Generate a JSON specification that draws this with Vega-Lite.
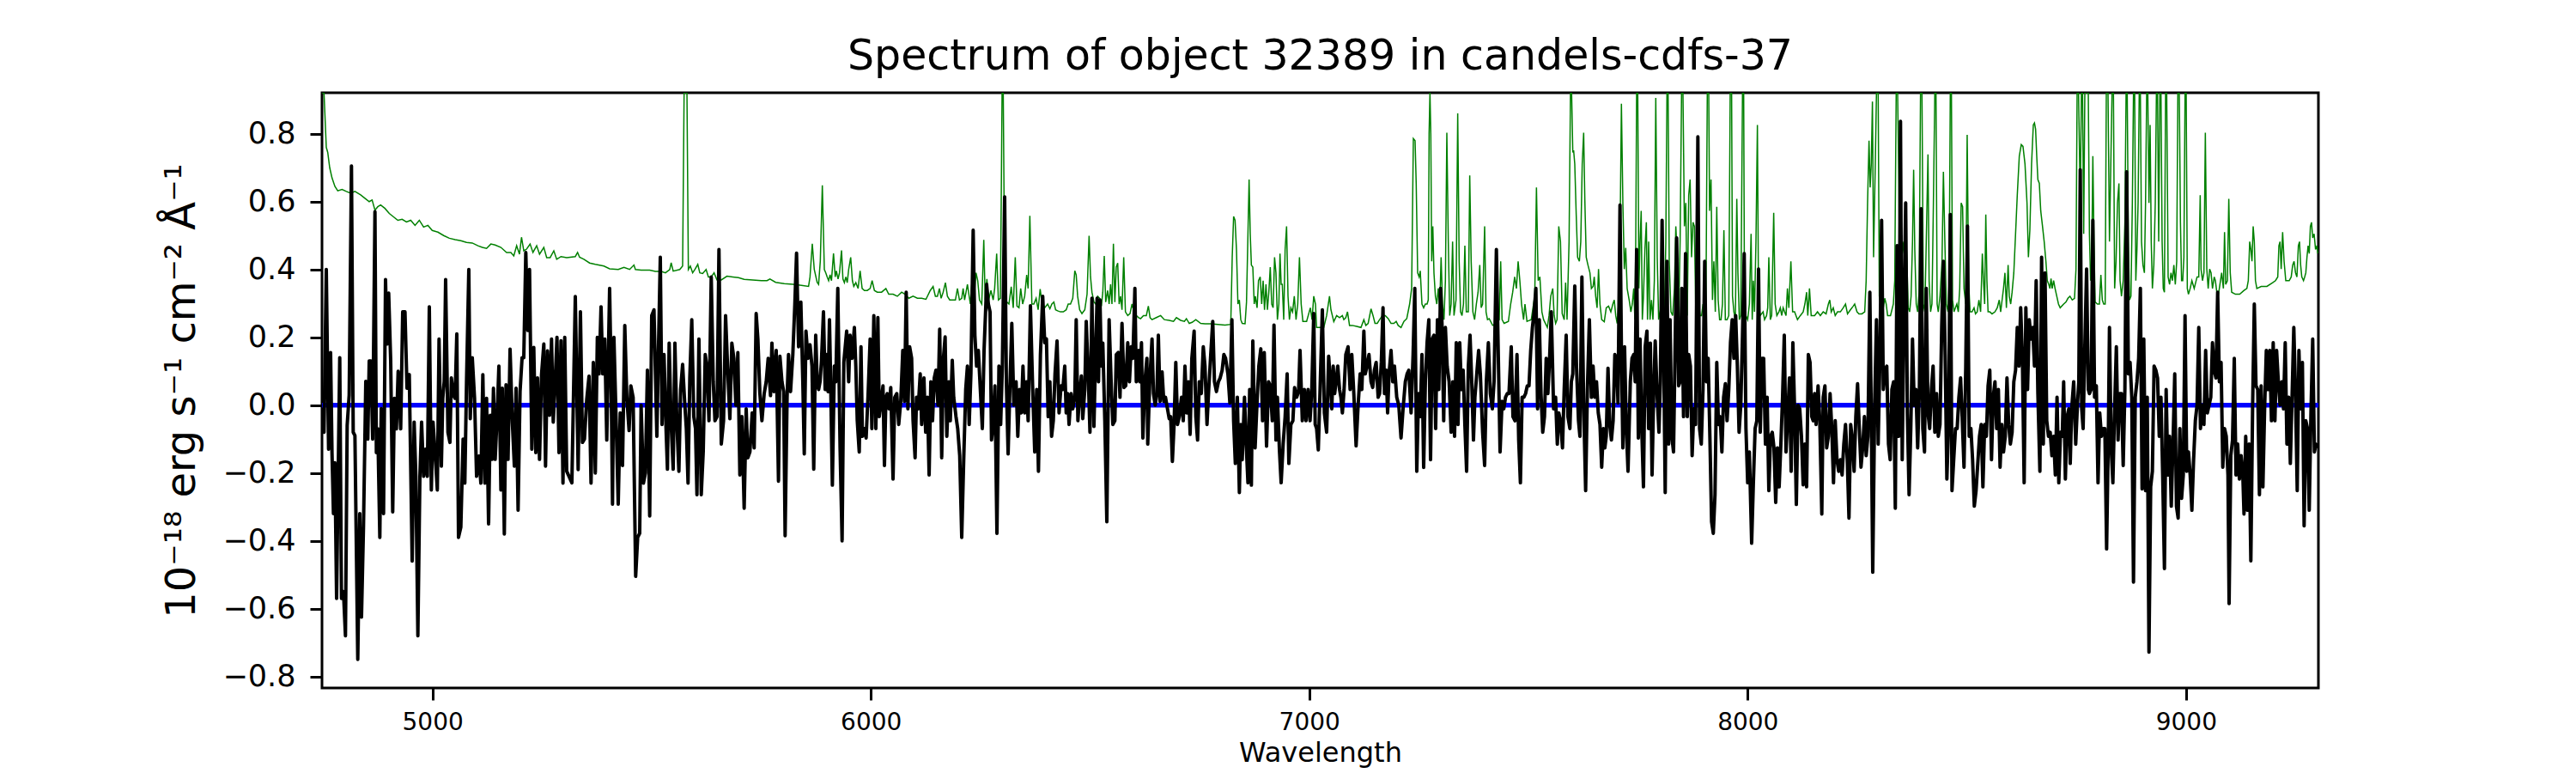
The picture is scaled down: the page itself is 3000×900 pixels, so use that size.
{
"$schema": "https://vega.github.io/schema/vega-lite/v6.json",
"width": 2325,
"height": 693,
"autosize": {"type": "none"},
"padding": {"left": 375, "top": 108, "right": 300, "bottom": 99},
"background": "white",
"title": {"text": "Spectrum of object 32389 in candels-cdfs-37", "fontSize": 49, "font": "DejaVu Sans", "fontWeight": "normal", "color": "black", "offset": 25, "baseline": "alphabetic", "anchor": "middle", "dy": 47},
"config": {
"view": {"stroke": "black", "strokeWidth": 3},
"axis": {"grid": false, "domain": false, "tickColor": "black", "tickWidth": 3, "tickSize": 14, "labelColor": "black", "labelFont": "DejaVu Sans", "titleFont": "DejaVu Sans", "titleFontWeight": "normal", "titleColor": "black"}
},
"datasets": {
"zero": [{"w": 4748, "f": 0}, {"w": 9302, "f": 0}],
"err": [
{"w":4748.0,"f":1.05},{"w":4752.6,"f":0.92},{"w":4757.8,"f":0.76},{"w":4761.1,"f":0.745},{"w":4765.6,"f":0.70},{"w":4770.8,"f":0.67},{"w":4777.4,"f":0.645},{"w":4783.9,"f":0.632},{"w":4793.7,"f":0.636},{"w":4803.5,"f":0.63},{"w":4813.3,"f":0.625},{"w":4823.1,"f":0.63},{"w":4836.1,"f":0.62},{"w":4845.9,"f":0.61},{"w":4855.7,"f":0.60},{"w":4862.3,"f":0.605},{"w":4868.8,"f":0.575},{"w":4875.3,"f":0.585},{"w":4881.8,"f":0.59},{"w":4891.6,"f":0.58},{"w":4901.4,"f":0.565},{"w":4911.2,"f":0.555},{"w":4921.0,"f":0.545},{"w":4930.8,"f":0.548},{"w":4940.6,"f":0.54},{"w":4950.4,"f":0.545},{"w":4960.2,"f":0.53},{"w":4970.0,"f":0.545},{"w":4979.8,"f":0.525},{"w":4989.6,"f":0.53},{"w":4999.4,"f":0.515},{"w":5012.4,"f":0.51},{"w":5025.5,"f":0.50},{"w":5038.5,"f":0.492},{"w":5051.6,"f":0.488},{"w":5064.7,"f":0.485},{"w":5077.7,"f":0.48},{"w":5090.8,"f":0.478},{"w":5103.8,"f":0.47},{"w":5113.6,"f":0.465},{"w":5123.4,"f":0.462},{"w":5133.2,"f":0.475},{"w":5143.0,"f":0.472},{"w":5156.1,"f":0.465},{"w":5169.1,"f":0.45},{"w":5178.9,"f":0.45},{"w":5185.5,"f":0.44},{"w":5192.0,"f":0.47},{"w":5198.5,"f":0.445},{"w":5203.1,"f":0.495},{"w":5208.3,"f":0.455},{"w":5214.8,"f":0.46},{"w":5222.7,"f":0.475},{"w":5229.2,"f":0.45},{"w":5237.7,"f":0.47},{"w":5244.2,"f":0.445},{"w":5254.0,"f":0.465},{"w":5260.5,"f":0.435},{"w":5268.4,"f":0.435},{"w":5276.8,"f":0.455},{"w":5283.4,"f":0.43},{"w":5293.2,"f":0.438},{"w":5306.2,"f":0.435},
{"w":5325.8,"f":0.438},{"w":5331.0,"f":0.45},{"w":5335.6,"f":0.436},{"w":5345.4,"f":0.43},{"w":5358.4,"f":0.419},{"w":5371.5,"f":0.415},{"w":5391.1,"f":0.41},{"w":5404.1,"f":0.402},{"w":5423.7,"f":0.40},{"w":5436.8,"f":0.406},{"w":5449.8,"f":0.40},{"w":5459.6,"f":0.413},{"w":5462.9,"f":0.40},{"w":5476.0,"f":0.398},{"w":5495.5,"f":0.398},{"w":5508.6,"f":0.394},{"w":5521.7,"f":0.394},{"w":5531.4,"f":0.39},{"w":5541.3,"f":0.40},{"w":5544.5,"f":0.42},{"w":5549.1,"f":0.395},{"w":5564.1,"f":0.40},{"w":5570.6,"f":0.41},{"w":5574.0,"f":1.3},{"w":5578.0,"f":1.4},{"w":5580.5,"f":1.3},{"w":5583.7,"f":0.40},{"w":5588.2,"f":0.41},{"w":5593.5,"f":0.39},{"w":5598.7,"f":0.40},{"w":5605.2,"f":0.415},{"w":5609.8,"f":0.39},{"w":5616.3,"f":0.388},{"w":5624.2,"f":0.40},{"w":5629.4,"f":0.378},{"w":5635.9,"f":0.378},{"w":5642.4,"f":0.39},{"w":5649.0,"f":0.369},{"w":5658.8,"f":0.369},{"w":5671.8,"f":0.38},{"w":5684.9,"f":0.378},{"w":5698.0,"f":0.376},{"w":5711.0,"f":0.371},{"w":5730.6,"f":0.369},{"w":5750.2,"f":0.367},{"w":5763.2,"f":0.367},{"w":5769.8,"f":0.372},{"w":5782.8,"f":0.362},{"w":5802.4,"f":0.358},{"w":5822.0,"f":0.356},{"w":5841.6,"f":0.353},{"w":5857.9,"f":0.35},{"w":5861.2,"f":0.378},{"w":5866.4,"f":0.476},{"w":5870.9,"f":0.40},{"w":5877.5,"f":0.362},{"w":5880.8,"f":0.356},{"w":5884.7,"f":0.425},{"w":5889.3,"f":0.648},
{"w":5893.9,"f":0.40},{"w":5897.2,"f":0.39},{"w":5900.4,"f":0.378},{"w":5903.7,"f":0.367},{"w":5907.0,"f":0.384},{"w":5910.2,"f":0.367},{"w":5914.8,"f":0.447},{"w":5918.7,"f":0.378},{"w":5921.3,"f":0.396},{"w":5925.2,"f":0.372},{"w":5928.5,"f":0.39},{"w":5933.1,"f":0.456},{"w":5936.3,"f":0.372},{"w":5939.6,"f":0.361},{"w":5942.9,"f":0.378},{"w":5946.1,"f":0.361},{"w":5949.4,"f":0.40},{"w":5954.0,"f":0.436},{"w":5957.9,"f":0.367},{"w":5961.1,"f":0.35},{"w":5965.7,"f":0.361},{"w":5970.9,"f":0.344},{"w":5975.5,"f":0.396},{"w":5980.1,"f":0.344},{"w":5985.3,"f":0.338},{"w":5991.8,"f":0.338},{"w":5998.4,"f":0.344},{"w":6002.9,"f":0.367},{"w":6008.1,"f":0.338},{"w":6014.7,"f":0.333},{"w":6024.5,"f":0.333},{"w":6034.3,"f":0.344},{"w":6040.8,"f":0.327},{"w":6050.6,"f":0.327},{"w":6060.4,"f":0.321},{"w":6070.2,"f":0.333},{"w":6078.0,"f":0.327},{"w":6086.5,"f":0.315},{"w":6096.3,"f":0.321},{"w":6106.1,"f":0.315},{"w":6115.9,"f":0.315},{"w":6125.7,"f":0.312},{"w":6135.5,"f":0.338},{"w":6142.0,"f":0.35},{"w":6147.2,"f":0.321},{"w":6151.8,"f":0.321},{"w":6156.4,"f":0.344},{"w":6160.3,"f":0.315},{"w":6164.9,"f":0.333},{"w":6170.1,"f":0.361},{"w":6174.6,"f":0.321},{"w":6179.9,"f":0.31},{"w":6186.4,"f":0.31},{"w":6192.9,"f":0.31},{"w":6197.5,"f":0.344},{"w":6202.1,"f":0.31},{"w":6207.3,"f":0.315},{"w":6210.5,"f":0.344},{"w":6213.8,"f":0.31},{"w":6220.3,"f":0.356},{"w":6226.9,"f":0.298},{"w":6230.8,"f":0.367},{"w":6234.7,"f":0.304},{"w":6239.9,"f":0.39},{"w":6243.8,"f":0.367},{"w":6247.8,"f":0.31},{"w":6253.0,"f":0.298},{"w":6257.6,"f":0.487},{"w":6260.8,"f":0.31},{"w":6264.7,"f":0.372},{"w":6268.6,"f":0.31},{"w":6273.9,"f":0.338},{"w":6279.1,"f":0.31},{"w":6282.4,"f":0.344},{"w":6287.0,"f":0.447},{"w":6290.9,"f":0.31},{"w":6295.4,"f":0.315},{"w":6297.4,"f":0.6},{"w":6299.3,"f":1.2},{"w":6302.0,"f":1.2},{"w":6303.9,"f":0.6},{"w":6305.2,"f":0.292},{"w":6310.4,"f":0.304},{"w":6315.0,"f":0.298},{"w":6320.2,"f":0.349},{"w":6324.8,"f":0.287},{"w":6329.4,"f":0.436},{"w":6333.3,"f":0.292},{"w":6337.9,"f":0.287},{"w":6341.8,"f":0.344},{"w":6346.3,"f":0.298},{"w":6350.9,"f":0.321},{"w":6355.5,"f":0.384},{"w":6358.8,"f":0.344},{"w":6362.7,"f":0.558},{"w":6367.3,"f":0.298},{"w":6371.8,"f":0.298},{"w":6377.0,"f":0.315},{"w":6381.6,"f":0.281},{"w":6386.2,"f":0.342},{"w":6390.1,"f":0.304},{"w":6396.6,"f":0.287},{"w":6403.2,"f":0.298},{"w":6408.4,"f":0.284},{"w":6412.9,"f":0.298},{"w":6417.5,"f":0.304},{"w":6421.4,"f":0.281},{"w":6426.0,"f":0.278},{"w":6432.5,"f":0.275},{"w":6439.1,"f":0.275},{"w":6445.6,"f":0.281},{"w":6450.2,"f":0.298},{"w":6455.4,"f":0.298},{"w":6460.6,"f":0.315},
{"w":6465.2,"f":0.396},{"w":6468.4,"f":0.384},{"w":6471.7,"f":0.321},{"w":6476.3,"f":0.281},{"w":6481.5,"f":0.27},{"w":6488.0,"f":0.281},{"w":6493.2,"f":0.327},{"w":6497.8,"f":0.499},{"w":6501.1,"f":0.378},{"w":6504.3,"f":0.333},{"w":6508.9,"f":0.304},{"w":6512.8,"f":0.298},{"w":6517.4,"f":0.321},{"w":6522.0,"f":0.315},{"w":6525.9,"f":0.292},{"w":6529.1,"f":0.333},{"w":6532.4,"f":0.44},{"w":6535.7,"f":0.304},{"w":6540.2,"f":0.338},{"w":6543.5,"f":0.298},{"w":6546.8,"f":0.356},{"w":6550.0,"f":0.298},{"w":6553.3,"f":0.476},{"w":6556.6,"f":0.304},{"w":6559.8,"f":0.407},{"w":6563.1,"f":0.419},{"w":6566.4,"f":0.298},{"w":6569.6,"f":0.321},{"w":6572.9,"f":0.281},{"w":6576.8,"f":0.436},{"w":6580.7,"f":0.275},{"w":6586.0,"f":0.264},{"w":6591.2,"f":0.27},{"w":6595.7,"f":0.298},{"w":6600.3,"f":0.275},{"w":6605.5,"f":0.264},{"w":6610.8,"f":0.258},{"w":6615.3,"f":0.255},{"w":6621.8,"f":0.264},{"w":6628.4,"f":0.264},{"w":6633.0,"f":0.292},{"w":6636.9,"f":0.258},{"w":6641.4,"f":0.252},{"w":6651.2,"f":0.258},{"w":6661.0,"f":0.264},{"w":6669.5,"f":0.252},{"w":6680.6,"f":0.25},{"w":6690.4,"f":0.247},{"w":6697.0,"f":0.258},{"w":6706.7,"f":0.25},{"w":6715.2,"f":0.247},{"w":6719.8,"f":0.255},{"w":6726.3,"f":0.241},{"w":6732.8,"f":0.244},{"w":6741.3,"f":0.252},{"w":6752.4,"f":0.241},{"w":6762.2,"f":0.24},{"w":6775.3,"f":0.24},{"w":6791.6,"f":0.238},{"w":6807.9,"f":0.236},{"w":6821.0,"f":0.238},{"w":6824.3,"f":0.436},{"w":6827.5,"f":0.556},{"w":6830.8,"f":0.545},{"w":6834.0,"f":0.459},{"w":6837.3,"f":0.298},{"w":6840.6,"f":0.31},{"w":6843.8,"f":0.252},{"w":6847.1,"f":0.241},{"w":6853.6,"f":0.24},{"w":6856.9,"f":0.304},{"w":6860.2,"f":0.505},{"w":6862.8,"f":0.665},{"w":6865.4,"f":0.505},{"w":6868.0,"f":0.413},{"w":6871.3,"f":0.407},{"w":6874.5,"f":0.298},{"w":6877.1,"f":0.321},{"w":6881.0,"f":0.287},{"w":6884.3,"f":0.367},{"w":6888.2,"f":0.378},{"w":6891.5,"f":0.298},{"w":6894.8,"f":0.367},{"w":6898.0,"f":0.281},{"w":6901.3,"f":0.356},{"w":6904.6,"f":0.281},{"w":6907.8,"f":0.333},{"w":6911.1,"f":0.407},{"w":6914.4,"f":0.298},{"w":6917.6,"f":0.287},{"w":6920.9,"f":0.436},{"w":6924.1,"f":0.39},{"w":6927.4,"f":0.252},{"w":6930.7,"f":0.298},{"w":6933.3,"f":0.447},{"w":6935.9,"f":0.356},{"w":6938.5,"f":0.356},{"w":6941.8,"f":0.252},{"w":6945.0,"f":0.459},{"w":6948.3,"f":0.527},{"w":6951.6,"f":0.321},{"w":6954.8,"f":0.252},{"w":6958.1,"f":0.287},{"w":6962.0,"f":0.275},{"w":6965.9,"f":0.321},{"w":6969.9,"f":0.252},{"w":6973.8,"f":0.298},{"w":6977.7,"f":0.436},{"w":6981.6,"f":0.298},{"w":6985.5,"f":0.247},{"w":6994.0,"f":0.247},{"w":7002.5,"f":0.287},{"w":7006.4,"f":0.252},{"w":7010.3,"f":0.321},{"w":7014.2,"f":0.298},
{"w":7016.8,"f":0.229},{"w":7023.4,"f":0.229},{"w":7033.2,"f":0.229},{"w":7039.7,"f":0.264},{"w":7046.2,"f":0.321},{"w":7049.5,"f":0.281},{"w":7056.0,"f":0.246},{"w":7062.5,"f":0.264},{"w":7069.1,"f":0.258},{"w":7075.6,"f":0.264},{"w":7078.9,"f":0.252},{"w":7083.4,"f":0.258},{"w":7087.3,"f":0.275},{"w":7091.9,"f":0.235},{"w":7098.4,"f":0.235},{"w":7108.2,"f":0.232},{"w":7118.0,"f":0.229},{"w":7124.6,"f":0.252},{"w":7129.1,"f":0.235},{"w":7134.4,"f":0.241},{"w":7140.9,"f":0.284},{"w":7145.5,"f":0.264},{"w":7150.0,"f":0.241},{"w":7155.2,"f":0.241},{"w":7160.5,"f":0.252},{"w":7167.0,"f":0.264},{"w":7173.5,"f":0.264},{"w":7180.1,"f":0.255},{"w":7186.6,"f":0.241},{"w":7193.1,"f":0.241},{"w":7198.3,"f":0.247},{"w":7202.9,"f":0.235},{"w":7209.4,"f":0.229},{"w":7216.0,"f":0.247},{"w":7222.5,"f":0.255},{"w":7229.0,"f":0.298},{"w":7233.6,"f":0.344},{"w":7237.5,"f":0.786},{"w":7241.4,"f":0.78},{"w":7244.0,"f":0.653},{"w":7247.3,"f":0.39},{"w":7250.6,"f":0.378},{"w":7253.2,"f":0.396},{"w":7257.1,"f":0.298},{"w":7261.0,"f":0.287},{"w":7264.9,"f":0.298},{"w":7268.8,"f":0.298},{"w":7271.5,"f":0.31},{"w":7273.4,"f":0.8},{"w":7275.4,"f":1.1},{"w":7277.3,"f":0.8},{"w":7279.3,"f":0.424},{"w":7281.9,"f":0.527},{"w":7284.5,"f":0.39},{"w":7287.8,"f":0.321},{"w":7291.0,"f":0.298},{"w":7294.3,"f":0.344},{"w":7297.6,"f":0.287},{"w":7300.8,"f":0.436},{"w":7304.1,"f":0.298},{"w":7307.4,"f":0.252},{"w":7310.6,"f":0.367},{"w":7313.9,"f":0.803},{"w":7317.2,"f":0.482},{"w":7320.4,"f":0.264},{"w":7323.7,"f":0.298},{"w":7327.0,"f":0.482},{"w":7330.2,"f":0.264},{"w":7334.8,"f":0.31},{"w":7338.7,"f":0.86},{"w":7342.0,"f":0.424},{"w":7345.2,"f":0.275},{"w":7348.5,"f":0.264},{"w":7351.8,"f":0.298},{"w":7355.0,"f":0.47},{"w":7358.3,"f":0.275},{"w":7362.9,"f":0.275},{"w":7366.1,"f":0.677},{"w":7369.4,"f":0.424},{"w":7373.3,"f":0.275},{"w":7377.2,"f":0.252},{"w":7381.2,"f":0.298},{"w":7385.1,"f":0.333},{"w":7389.0,"f":0.413},{"w":7392.2,"f":0.287},{"w":7395.5,"f":0.298},{"w":7400.1,"f":0.527},{"w":7403.3,"f":0.275},{"w":7406.6,"f":0.252},{"w":7410.5,"f":0.255},{"w":7418.4,"f":0.235},{"w":7428.2,"f":0.241},{"w":7433.4,"f":0.252},{"w":7436.7,"f":0.424},{"w":7439.9,"f":0.252},{"w":7444.5,"f":0.241},{"w":7454.3,"f":0.247},{"w":7459.5,"f":0.298},{"w":7464.1,"f":0.333},{"w":7468.6,"f":0.378},{"w":7472.6,"f":0.344},{"w":7476.5,"f":0.424},{"w":7480.4,"f":0.367},{"w":7484.3,"f":0.298},{"w":7488.9,"f":0.252},{"w":7492.1,"f":0.298},{"w":7496.7,"f":0.247},{"w":7506.5,"f":0.252},{"w":7510.4,"f":0.287},{"w":7514.4,"f":0.321},{"w":7518.3,"f":0.642},{"w":7522.2,"f":0.367},{"w":7526.1,"f":0.378},{"w":7530.7,"f":0.275},{"w":7534.6,"f":0.252},{"w":7543.1,"f":0.229},{"w":7547.0,"f":0.264},{"w":7550.9,"f":0.321},{"w":7555.5,"f":0.344},{"w":7558.7,"f":0.264},{"w":7562.0,"f":0.241},{"w":7565.3,"f":0.252},{"w":7569.2,"f":0.527},{"w":7573.1,"f":0.482},{"w":7577.0,"f":0.27},
{"w":7581.6,"f":0.252},{"w":7584.8,"f":0.361},{"w":7588.1,"f":0.252},{"w":7592.7,"f":0.482},{"w":7595.9,"f":1.1},{"w":7598.5,"f":1.1},{"w":7601.2,"f":0.745},{"w":7603.1,"f":0.751},{"w":7605.7,"f":0.711},{"w":7609.0,"f":0.562},{"w":7612.2,"f":0.436},{"w":7616.2,"f":0.424},{"w":7619.4,"f":0.482},{"w":7622.7,"f":0.711},{"w":7626.0,"f":0.803},{"w":7628.6,"f":0.608},{"w":7631.8,"f":0.436},{"w":7635.8,"f":0.413},{"w":7640.3,"f":0.39},{"w":7643.6,"f":0.344},{"w":7647.5,"f":0.35},{"w":7650.1,"f":0.378},{"w":7653.4,"f":0.321},{"w":7656.6,"f":0.287},{"w":7659.9,"f":0.401},{"w":7663.2,"f":0.298},{"w":7667.1,"f":0.252},{"w":7673.0,"f":0.246},{"w":7677.5,"f":0.287},{"w":7682.8,"f":0.292},{"w":7688.0,"f":0.275},{"w":7692.6,"f":0.298},{"w":7695.8,"f":0.31},{"w":7699.1,"f":0.264},{"w":7702.4,"f":0.241},{"w":7705.6,"f":0.298},{"w":7708.9,"f":0.482},{"w":7712.1,"f":0.889},{"w":7715.4,"f":0.596},{"w":7718.7,"f":0.401},{"w":7721.9,"f":0.464},{"w":7725.2,"f":0.344},{"w":7729.8,"f":0.31},{"w":7733.7,"f":0.275},{"w":7736.9,"f":0.298},{"w":7740.2,"f":0.344},{"w":7742.8,"f":0.252},{"w":7744.8,"f":0.482},{"w":7746.8,"f":1.1},{"w":7749.4,"f":1.1},{"w":7752.0,"f":0.344},{"w":7754.6,"f":0.482},{"w":7757.2,"f":0.573},{"w":7759.8,"f":0.252},{"w":7762.4,"f":0.321},{"w":7765.7,"f":0.459},{"w":7769.0,"f":0.539},{"w":7771.6,"f":0.252},{"w":7774.2,"f":0.482},{"w":7777.4,"f":0.252},{"w":7780.7,"f":0.31},{"w":7784.0,"f":0.252},{"w":7787.2,"f":0.367},{"w":7790.5,"f":0.906},{"w":7793.8,"f":0.436},{"w":7797.0,"f":0.252},{"w":7800.3,"f":0.275},{"w":7803.6,"f":0.298},{"w":7806.8,"f":0.344},{"w":7810.1,"f":0.252},{"w":7813.4,"f":0.482},{"w":7816.0,"f":1.1},{"w":7818.6,"f":1.1},{"w":7821.2,"f":0.424},{"w":7825.1,"f":0.275},{"w":7829.0,"f":0.264},{"w":7833.0,"f":0.344},{"w":7836.2,"f":0.527},{"w":7839.5,"f":0.436},{"w":7842.7,"f":0.252},{"w":7846.0,"f":0.482},{"w":7849.3,"f":1.1},{"w":7852.5,"f":1.1},{"w":7855.8,"f":0.527},{"w":7859.0,"f":0.596},{"w":7862.3,"f":0.264},{"w":7865.6,"f":0.619},{"w":7868.8,"f":0.665},{"w":7872.1,"f":0.436},{"w":7875.4,"f":0.539},{"w":7878.6,"f":0.527},{"w":7881.9,"f":0.264},{"w":7885.2,"f":0.252},{"w":7888.4,"f":0.298},{"w":7891.7,"f":0.264},{"w":7895.0,"f":0.264},{"w":7898.2,"f":0.298},{"w":7901.5,"f":0.264},{"w":7904.8,"f":0.275},{"w":7908.0,"f":1.1},{"w":7911.3,"f":1.1},{"w":7913.2,"f":0.573},{"w":7916.5,"f":0.665},{"w":7919.8,"f":0.31},{"w":7923.0,"f":0.424},{"w":7926.3,"f":0.275},{"w":7929.6,"f":0.585},{"w":7932.8,"f":0.31},{"w":7936.1,"f":0.252},{"w":7939.4,"f":0.252},{"w":7942.6,"f":0.298},{"w":7945.9,"f":0.516},{"w":7949.2,"f":0.252},{"w":7953.1,"f":0.252},{"w":7957.0,"f":0.264},{"w":7960.2,"f":1.1},{"w":7963.5,"f":1.1},{"w":7965.5,"f":0.321},{"w":7968.7,"f":0.275},{"w":7972.0,"f":0.252},{"w":7975.3,"f":0.608},{"w":7977.9,"f":0.39},{"w":7981.1,"f":0.252},{"w":7984.4,"f":0.264},{"w":7988.3,"f":1.1},{"w":7991.0,"f":1.1},{"w":7992.9,"f":0.275},{"w":7996.2,"f":0.264},{"w":8000.1,"f":0.252},{"w":8004.0,"f":0.298},{"w":8007.9,"f":0.505},{"w":8010.5,"f":0.252},{"w":8013.1,"f":0.367},{"w":8015.7,"f":0.275},{"w":8019.0,"f":0.482},{"w":8022.3,"f":0.826},{"w":8024.9,"f":0.298},{"w":8028.8,"f":0.264},{"w":8035.3,"f":0.275},{"w":8038.6,"f":0.252},{"w":8043.2,"f":0.264},{"w":8045.8,"f":0.287},{"w":8048.4,"f":0.436},{"w":8051.7,"f":0.252},{"w":8054.9,"f":0.264},{"w":8059.5,"f":0.567},{"w":8062.8,"f":0.298},{"w":8066.7,"f":0.264},{"w":8071.3,"f":0.275},{"w":8074.5,"f":0.287},{"w":8077.8,"f":0.264},{"w":8081.0,"f":0.287},{"w":8084.3,"f":0.275},{"w":8087.6,"f":0.264},{"w":8090.8,"f":0.344},{"w":8094.1,"f":0.287},{"w":8098.7,"f":0.424},{"w":8102.6,"f":0.275},{"w":8107.1,"f":0.275},{"w":8113.7,"f":0.252},{"w":8120.2,"f":0.264},{"w":8126.7,"f":0.275},{"w":8130.6,"f":0.298},{"w":8134.6,"f":0.333},{"w":8137.2,"f":0.264},{"w":8141.1,"f":0.344},{"w":8145.0,"f":0.264},{"w":8148.9,"f":0.264},
{"w":8152.8,"f":0.264},{"w":8159.4,"f":0.275},{"w":8165.9,"f":0.264},{"w":8172.4,"f":0.275},{"w":8179.0,"f":0.269},{"w":8184.2,"f":0.298},{"w":8187.4,"f":0.31},{"w":8190.7,"f":0.275},{"w":8195.3,"f":0.287},{"w":8199.8,"f":0.264},{"w":8205.1,"f":0.275},{"w":8211.6,"f":0.275},{"w":8218.1,"f":0.287},{"w":8223.3,"f":0.298},{"w":8227.9,"f":0.269},{"w":8234.4,"f":0.281},{"w":8241.0,"f":0.292},{"w":8244.2,"f":0.298},{"w":8249.5,"f":0.275},{"w":8254.0,"f":0.269},{"w":8260.6,"f":0.269},{"w":8267.1,"f":0.275},{"w":8270.4,"f":0.367},{"w":8273.6,"f":0.596},{"w":8276.9,"f":0.78},{"w":8279.5,"f":0.642},{"w":8282.1,"f":0.711},{"w":8284.7,"f":0.895},{"w":8287.3,"f":0.436},{"w":8291.2,"f":0.711},{"w":8293.9,"f":1.1},{"w":8297.8,"f":1.1},{"w":8300.4,"f":0.321},{"w":8303.0,"f":0.298},{"w":8306.3,"f":0.275},{"w":8309.5,"f":0.287},{"w":8312.8,"f":0.315},{"w":8316.1,"f":0.298},{"w":8319.3,"f":0.264},{"w":8325.9,"f":0.264},{"w":8332.4,"f":0.298},{"w":8335.6,"f":0.367},{"w":8338.9,"f":1.1},{"w":8342.2,"f":1.1},{"w":8344.8,"f":0.654},{"w":8347.4,"f":0.298},{"w":8350.7,"f":0.367},{"w":8353.9,"f":0.482},{"w":8357.2,"f":0.447},{"w":8359.8,"f":0.539},{"w":8363.1,"f":0.436},{"w":8366.3,"f":0.287},{"w":8369.6,"f":0.275},{"w":8372.9,"f":0.321},{"w":8376.1,"f":0.482},{"w":8378.7,"f":0.694},{"w":8381.3,"f":0.459},{"w":8384.6,"f":0.298},{"w":8387.9,"f":0.275},{"w":8391.1,"f":0.333},{"w":8394.4,"f":1.1},{"w":8397.7,"f":1.1},{"w":8400.9,"f":0.298},{"w":8404.2,"f":0.275},{"w":8407.5,"f":0.482},{"w":8411.4,"f":0.739},{"w":8414.0,"f":0.367},{"w":8417.3,"f":0.275},{"w":8420.5,"f":0.298},{"w":8423.8,"f":0.596},{"w":8427.0,"f":1.1},{"w":8429.7,"f":1.1},{"w":8432.3,"f":0.298},{"w":8434.9,"f":0.275},{"w":8438.8,"f":0.321},{"w":8443.4,"f":0.424},{"w":8446.6,"f":0.688},{"w":8449.9,"f":0.482},{"w":8453.2,"f":0.298},{"w":8457.1,"f":0.275},{"w":8459.7,"f":0.367},{"w":8462.3,"f":1.1},{"w":8464.9,"f":1.1},{"w":8467.5,"f":0.31},{"w":8470.8,"f":0.275},{"w":8474.1,"f":0.287},{"w":8477.3,"f":0.298},{"w":8480.6,"f":0.275},{"w":8483.8,"f":0.344},{"w":8487.1,"f":0.596},{"w":8490.4,"f":0.585},{"w":8493.6,"f":0.344},{"w":8497.6,"f":0.298},{"w":8500.8,"f":0.797},{"w":8504.1,"f":0.367},{"w":8507.4,"f":0.275},{"w":8511.9,"f":0.275},{"w":8516.5,"f":0.287},{"w":8519.8,"f":0.269},{"w":8523.7,"f":0.275},{"w":8527.6,"f":0.31},{"w":8531.5,"f":0.275},{"w":8535.4,"f":0.447},{"w":8538.0,"f":0.367},{"w":8540.7,"f":0.298},{"w":8543.3,"f":0.562},{"w":8545.9,"f":0.367},{"w":8548.5,"f":0.275},{"w":8552.4,"f":0.275},{"w":8557.6,"f":0.269},{"w":8564.2,"f":0.275},{"w":8569.4,"f":0.287},{"w":8574.0,"f":0.31},{"w":8577.2,"f":0.275},{"w":8580.5,"f":0.31},{"w":8583.7,"f":0.344},{"w":8587.0,"f":0.39},{"w":8590.3,"f":0.287},{"w":8594.2,"f":0.413},{"w":8596.8,"f":0.321},{"w":8600.1,"f":0.298},{"w":8603.3,"f":0.333},{"w":8607.2,"f":0.39},{"w":8611.2,"f":0.505},{"w":8615.1,"f":0.619},{"w":8619.7,"f":0.734},{"w":8624.2,"f":0.768},{"w":8628.1,"f":0.763},{"w":8632.7,"f":0.711},{"w":8637.3,"f":0.596},{"w":8640.5,"f":0.436},{"w":8643.8,"f":0.516},{"w":8647.7,"f":0.711},{"w":8651.7,"f":0.826},{"w":8654.3,"f":0.832},{"w":8656.9,"f":0.814},{"w":8659.5,"f":0.734},{"w":8662.1,"f":0.665},{"w":8665.4,"f":0.654},{"w":8668.6,"f":0.573},{"w":8672.6,"f":0.528},{"w":8676.5,"f":0.482},{"w":8680.4,"f":0.424},{"w":8683.6,"f":0.367},{"w":8686.9,"f":0.356},{"w":8689.5,"f":0.344},{"w":8692.1,"f":0.373},{"w":8694.7,"f":0.344},{"w":8698.0,"f":0.367},{"w":8701.3,"f":0.344},{"w":8705.2,"f":0.321},{"w":8709.1,"f":0.298},{"w":8713.0,"f":0.287},
{"w":8720.9,"f":0.298},{"w":8726.2,"f":0.304},{"w":8730.7,"f":0.315},{"w":8735.3,"f":0.321},{"w":8740.5,"f":0.31},{"w":8745.7,"f":0.315},{"w":8749.0,"f":0.40},{"w":8751.6,"f":1.1},{"w":8754.9,"f":1.1},{"w":8758.8,"f":0.596},{"w":8761.4,"f":1.1},{"w":8764.0,"f":1.1},{"w":8766.6,"f":0.505},{"w":8769.2,"f":1.1},{"w":8777.1,"f":1.1},{"w":8779.7,"f":0.505},{"w":8782.3,"f":0.367},{"w":8784.9,"f":0.424},{"w":8787.5,"f":0.734},{"w":8790.1,"f":0.482},{"w":8792.7,"f":0.304},{"w":8798.0,"f":0.298},{"w":8802.5,"f":0.298},{"w":8805.8,"f":0.384},{"w":8809.1,"f":0.31},{"w":8812.3,"f":0.298},{"w":8815.6,"f":0.298},{"w":8818.2,"f":1.1},{"w":8822.1,"f":1.1},{"w":8825.4,"f":0.482},{"w":8828.7,"f":0.728},{"w":8831.3,"f":1.1},{"w":8834.5,"f":1.1},{"w":8837.2,"f":0.344},{"w":8840.4,"f":0.424},{"w":8843.7,"f":0.596},{"w":8847.0,"f":0.654},{"w":8849.6,"f":0.367},{"w":8852.8,"f":0.321},{"w":8856.7,"f":0.367},{"w":8860.6,"f":0.539},{"w":8863.3,"f":1.1},{"w":8865.9,"f":1.1},{"w":8868.5,"f":0.482},{"w":8871.1,"f":0.31},{"w":8874.4,"f":0.321},{"w":8877.6,"f":0.596},{"w":8880.2,"f":1.1},{"w":8882.9,"f":1.1},{"w":8885.5,"f":0.367},{"w":8888.1,"f":0.459},{"w":8890.7,"f":0.596},{"w":8893.3,"f":1.1},{"w":8895.9,"f":1.1},{"w":8898.5,"f":0.482},{"w":8901.8,"f":0.413},{"w":8905.1,"f":0.39},{"w":8907.7,"f":0.596},{"w":8910.3,"f":1.1},{"w":8912.9,"f":1.1},{"w":8915.5,"f":0.596},{"w":8918.1,"f":0.826},{"w":8920.7,"f":0.482},{"w":8923.3,"f":0.344},{"w":8926.6,"f":0.413},{"w":8929.9,"f":0.596},{"w":8932.5,"f":1.1},{"w":8935.1,"f":1.1},{"w":8937.7,"f":0.482},{"w":8940.3,"f":1.1},{"w":8942.9,"f":1.1},{"w":8945.5,"f":0.482},{"w":8948.1,"f":0.344},{"w":8950.8,"f":0.333},{"w":8953.4,"f":1.1},{"w":8956.0,"f":1.1},{"w":8959.2,"f":0.378},{"w":8962.5,"f":0.356},{"w":8965.8,"f":0.39},{"w":8969.0,"f":0.367},{"w":8972.3,"f":0.413},{"w":8975.6,"f":0.356},{"w":8978.8,"f":0.424},{"w":8981.4,"f":1.1},{"w":8984.7,"f":1.1},{"w":8987.3,"f":0.539},{"w":8989.9,"f":0.367},{"w":8992.5,"f":0.367},{"w":8995.2,"f":0.436},{"w":8997.8,"f":1.1},{"w":9000.4,"f":1.1},{"w":9003.0,"f":0.344},{"w":9005.6,"f":0.327},{"w":9009.5,"f":0.344},{"w":9013.4,"f":0.367},{"w":9018.7,"f":0.344},{"w":9025.2,"f":0.378},{"w":9029.1,"f":0.378},{"w":9032.4,"f":0.619},{"w":9034.3,"f":0.401},{"w":9037.6,"f":0.367},{"w":9040.9,"f":0.39},{"w":9044.1,"f":0.803},{"w":9047.4,"f":0.401},{"w":9050.6,"f":0.344},{"w":9053.9,"f":0.401},{"w":9057.2,"f":0.39},{"w":9060.4,"f":0.344},{"w":9064.4,"f":0.378},{"w":9067.0,"f":0.367},{"w":9070.2,"f":0.333},{"w":9073.5,"f":0.321},{"w":9077.4,"f":0.356},{"w":9081.3,"f":0.39},{"w":9085.3,"f":0.344},{"w":9087.9,"f":0.51},{"w":9090.5,"f":0.356},{"w":9094.4,"f":0.367},{"w":9097.6,"f":0.608},{"w":9100.9,"f":0.39},{"w":9104.2,"f":0.333},{"w":9112.7,"f":0.327},{"w":9122.5,"f":0.327},{"w":9132.3,"f":0.338},{"w":9138.8,"f":0.344},{"w":9142.1,"f":0.367},{"w":9145.3,"f":0.482},{"w":9147.9,"f":0.459},{"w":9150.5,"f":0.424},{"w":9153.2,"f":0.527},{"w":9155.8,"f":0.482},{"w":9158.4,"f":0.367},{"w":9161.6,"f":0.344},{"w":9171.4,"f":0.35},{"w":9184.5,"f":0.35},{"w":9197.6,"f":0.361},{"w":9204.1,"f":0.367},{"w":9209.3,"f":0.378},{"w":9211.9,"f":0.47},{"w":9214.5,"f":0.482},{"w":9217.1,"f":0.401},{"w":9220.4,"f":0.51},{"w":9223.7,"f":0.424},{"w":9227.6,"f":0.367},{"w":9235.4,"f":0.367},{"w":9240.0,"f":0.378},{"w":9243.3,"f":0.413},{"w":9246.5,"f":0.424},{"w":9249.8,"f":0.39},{"w":9253.0,"f":0.378},{"w":9256.3,"f":0.47},{"w":9258.9,"f":0.482},{"w":9261.5,"f":0.413},{"w":9264.1,"f":0.378},{"w":9268.0,"f":0.367},{"w":9270.7,"f":0.378},{"w":9273.3,"f":0.39},{"w":9275.9,"f":0.436},{"w":9278.5,"f":0.47},{"w":9281.1,"f":0.447},{"w":9283.7,"f":0.527},{"w":9286.3,"f":0.539},{"w":9289.0,"f":0.493},{"w":9292.2,"f":0.505},{"w":9295.5,"f":0.459},{"w":9298.8,"f":0.47},{"w":9300.7,"f":0.447}
],
"flux": [
{"w":4748.0,"f":-0.07},{"w":4752.6,"f":-0.08},{"w":4757.8,"f":0.40},{"w":4763.0,"f":-0.13},{"w":4767.6,"f":0.155},{"w":4770.8,"f":-0.14},{"w":4774.1,"f":-0.32},{"w":4777.4,"f":-0.17},{"w":4781.3,"f":-0.57},{"w":4785.2,"f":-0.18},{"w":4788.5,"f":0.14},{"w":4792.4,"f":-0.57},{"w":4797.0,"f":-0.55},{"w":4801.5,"f":-0.68},{"w":4805.4,"f":-0.06},{"w":4810.0,"f":0.03},{"w":4815.2,"f":0.705},{"w":4819.2,"f":-0.08},{"w":4823.1,"f":-0.09},{"w":4829.6,"f":-0.75},{"w":4834.2,"f":-0.32},{"w":4838.1,"f":-0.625},{"w":4842.7,"f":-0.355},{"w":4847.9,"f":0.07},{"w":4852.5,"f":-0.10},{"w":4855.7,"f":0.13},{"w":4859.6,"f":0.13},{"w":4863.6,"f":-0.10},{"w":4868.8,"f":0.57},{"w":4872.0,"f":-0.14},{"w":4875.3,"f":-0.07},{"w":4879.9,"f":-0.39},{"w":4883.1,"f":-0.01},{"w":4888.4,"f":-0.32},{"w":4892.9,"f":0.37},{"w":4896.2,"f":0.18},{"w":4900.1,"f":0.33},{"w":4904.7,"f":0.13},{"w":4909.3,"f":-0.315},{"w":4913.2,"f":0.02},{"w":4917.7,"f":-0.07},{"w":4921.7,"f":0.10},{"w":4927.5,"f":-0.07},{"w":4932.1,"f":0.275},{"w":4937.3,"f":0.275},{"w":4941.9,"f":0.05},{"w":4947.1,"f":0.09},{"w":4953.7,"f":-0.46},{"w":4958.2,"f":-0.05},{"w":4962.1,"f":-0.21},{"w":4966.7,"f":-0.68},{"w":4971.3,"f":-0.21},{"w":4975.2,"f":-0.05},{"w":4979.8,"f":-0.21},{"w":4984.3,"f":-0.13},{"w":4988.3,"f":-0.21},{"w":4992.8,"f":0.29},{"w":4997.4,"f":-0.25},{"w":5001.3,"f":-0.05},{"w":5005.9,"f":-0.14},{"w":5011.1,"f":-0.25},{"w":5015.0,"f":0.195},{"w":5020.3,"f":-0.18},{"w":5023.5,"f":0.02},{"w":5026.8,"f":0.07},{"w":5030.0,"f":0.37},{"w":5035.3,"f":-0.08},{"w":5039.8,"f":-0.11},{"w":5043.1,"f":0.08},{"w":5047.7,"f":0.03},{"w":5051.6,"f":0.02},{"w":5055.5,"f":0.21},{"w":5059.4,"f":-0.39},{"w":5064.7,"f":-0.36},{"w":5069.9,"f":-0.10},{"w":5073.8,"f":-0.23},{"w":5077.7,"f":0.07},{"w":5082.9,"f":0.40},{"w":5086.2,"f":-0.04},{"w":5090.8,"f":0.14},{"w":5096.0,"f":0.02},{"w":5100.6,"f":-0.21},{"w":5105.8,"f":-0.15},{"w":5110.4,"f":-0.23},{"w":5114.9,"f":0.09},{"w":5119.5,"f":-0.23},{"w":5123.4,"f":0.02},{"w":5128.0,"f":-0.35},{"w":5131.9,"f":-0.03},{"w":5135.8,"f":-0.16},{"w":5139.1,"f":0.05},{"w":5143.0,"f":-0.16},{"w":5147.6,"f":-0.03},{"w":5151.5,"f":0.115},{"w":5156.1,"f":-0.25},{"w":5159.3,"f":0.05},{"w":5163.9,"f":-0.38},{"w":5167.8,"f":0.06},{"w":5172.4,"f":-0.16},{"w":5177.0,"f":0.165},{"w":5182.2,"f":-0.05},{"w":5186.8,"f":-0.18},{"w":5190.7,"f":0.05},{"w":5195.3,"f":-0.31},{"w":5199.8,"f":0.04},{"w":5204.4,"f":0.14},{"w":5208.3,"f":0.14},{"w":5212.9,"f":0.45},{"w":5217.4,"f":0.22},{"w":5221.4,"f":0.40},{"w":5226.6,"f":-0.13},{"w":5231.1,"f":0.17},{"w":5235.7,"f":-0.14},{"w":5239.6,"f":0.08},{"w":5244.2,"f":-0.16},{"w":5248.8,"f":0.09},{"w":5254.0,"f":0.18},{"w":5257.9,"f":-0.18},{"w":5262.5,"f":0.16},{"w":5267.1,"f":-0.03},{"w":5271.6,"f":0.195},{"w":5275.5,"f":-0.05},{"w":5280.1,"f":0.075},{"w":5284.0,"f":0.20},{"w":5288.6,"f":-0.14},{"w":5293.2,"f":0.19},{"w":5297.7,"f":-0.23},{"w":5301.7,"f":0.20},{"w":5306.2,"f":-0.195},{"w":5318.0,"f":-0.229},
{"w":5325.8,"f":0.32},{"w":5332.3,"f":-0.19},{"w":5337.5,"f":0.275},{"w":5342.1,"f":-0.11},{"w":5346.7,"f":-0.10},{"w":5351.9,"f":0.017},{"w":5357.1,"f":0.085},{"w":5361.7,"f":-0.23},{"w":5366.9,"f":0.126},{"w":5371.5,"f":-0.2},{"w":5376.1,"f":0.2},{"w":5380.0,"f":0.092},{"w":5384.5,"f":0.29},{"w":5388.5,"f":0.092},{"w":5393.0,"f":0.195},{"w":5397.6,"f":-0.103},{"w":5404.1,"f":0.344},{"w":5407.4,"f":0.092},{"w":5410.7,"f":-0.292},{"w":5413.9,"f":0.2},{"w":5418.5,"f":-0.023},{"w":5423.7,"f":-0.292},{"w":5428.3,"f":-0.023},{"w":5433.5,"f":-0.178},{"w":5438.7,"f":0.235},{"w":5443.3,"f":0.023},{"w":5448.5,"f":-0.075},{"w":5452.5,"f":0.057},{"w":5457.7,"f":0.023},{"w":5463.5,"f":-0.505},{"w":5468.1,"f":-0.39},{"w":5472.7,"f":-0.378},{"w":5475.9,"f":0.0},{"w":5481.2,"f":-0.23},{"w":5485.7,"f":-0.2},{"w":5490.3,"f":0.103},{"w":5495.5,"f":-0.327},{"w":5500.1,"f":0.264},{"w":5505.3,"f":0.281},{"w":5511.9,"f":-0.092},{"w":5515.1,"f":0.138},{"w":5519.7,"f":0.436},{"w":5523.6,"f":-0.057},{"w":5528.2,"f":0.149},{"w":5532.8,"f":-0.069},{"w":5536.0,"f":-0.189},{"w":5539.9,"f":0.183},{"w":5544.5,"f":-0.057},{"w":5549.1,"f":-0.189},{"w":5553.0,"f":0.183},{"w":5557.6,"f":-0.057},{"w":5562.1,"f":-0.195},{"w":5566.1,"f":0.046},{"w":5570.6,"f":0.12},{"w":5575.2,"f":0.011},{"w":5579.1,"f":-0.069},{"w":5583.0,"f":-0.23},{"w":5587.0,"f":0.08},{"w":5591.5,"f":0.252},{"w":5596.1,"f":-0.034},{"w":5600.0,"f":-0.069},{"w":5603.3,"f":-0.264},{"w":5607.8,"f":0.195},{"w":5613.1,"f":-0.264},{"w":5617.6,"f":-0.138},{"w":5622.2,"f":0.149},{"w":5626.1,"f":0.115},{"w":5630.7,"f":-0.046},{"w":5635.9,"f":0.378},{"w":5640.5,"f":0.069},{"w":5644.4,"f":-0.046},{"w":5649.0,"f":-0.034},{"w":5653.5,"f":0.459},{"w":5658.8,"f":-0.115},{"w":5664.0,"f":-0.046},{"w":5668.6,"f":0.264},{"w":5673.1,"f":0.115},{"w":5678.4,"f":-0.04},{"w":5682.9,"f":0.183},{"w":5687.5,"f":0.138},{"w":5692.1,"f":0.0},{"w":5696.6,"f":0.155},{"w":5701.2,"f":-0.206},{"w":5705.8,"f":-0.034},{"w":5711.0,"f":-0.304},{"w":5715.6,"f":-0.011},{"w":5719.5,"f":-0.155},{"w":5724.1,"f":-0.138},{"w":5729.3,"f":-0.023},{"w":5733.8,"f":-0.126},{"w":5738.4,"f":0.27},{"w":5742.3,"f":0.195},{"w":5746.9,"f":0.034},{"w":5751.5,"f":-0.046},{"w":5756.7,"f":0.034},{"w":5761.3,"f":0.069},{"w":5765.8,"f":0.138},{"w":5771.1,"f":0.028},{"w":5774.3,"f":0.183},{"w":5778.9,"f":0.04},{"w":5784.1,"f":0.161},{"w":5789.3,"f":-0.224},{"w":5792.6,"f":0.144},{"w":5797.2,"f":0.069},{"w":5801.1,"f":0.04},{"w":5804.4,"f":-0.385},{"w":5808.9,"f":0.023},{"w":5812.2,"f":0.149},{"w":5816.8,"f":0.04},{"w":5822.0,"f":0.149},{"w":5826.6,"f":0.298},{"w":5830.5,"f":0.448},{"w":5835.1,"f":0.172},{"w":5840.3,"f":0.304},{"w":5844.8,"f":0.069},{"w":5848.1,"f":-0.144},{"w":5852.0,"f":0.218},{"w":5856.6,"f":0.138},{"w":5861.2,"f":0.178},{"w":5865.7,"f":0.115},{"w":5869.7,"f":-0.189},{"w":5874.2,"f":0.206},{"w":5877.6,"f":0.069},{"w":5880.8,"f":0.046},{"w":5884.1,"f":0.069},{"w":5887.4,"f":0.132},{"w":5891.9,"f":0.275},
{"w":5895.8,"f":0.046},{"w":5899.1,"f":0.149},{"w":5902.4,"f":0.04},{"w":5905.6,"f":0.252},{"w":5908.3,"f":0.069},{"w":5912.2,"f":-0.236},{"w":5916.7,"f":0.115},{"w":5920.0,"f":0.069},{"w":5924.6,"f":0.344},{"w":5929.8,"f":-0.126},{"w":5934.4,"f":-0.40},{"w":5938.3,"f":0.126},{"w":5944.8,"f":0.218},{"w":5949.4,"f":0.069},{"w":5952.6,"f":0.206},{"w":5957.2,"f":0.138},{"w":5962.4,"f":0.229},{"w":5965.7,"f":0.115},{"w":5969.0,"f":-0.046},{"w":5973.5,"f":-0.138},{"w":5977.5,"f":0.172},{"w":5980.7,"f":-0.092},{"w":5985.3,"f":-0.069},{"w":5989.2,"f":-0.097},{"w":5993.8,"f":0.034},{"w":5998.4,"f":0.195},{"w":6002.3,"f":-0.069},{"w":6006.8,"f":0.264},{"w":6011.4,"f":-0.069},{"w":6016.0,"f":0.258},{"w":6019.2,"f":-0.034},{"w":6024.5,"f":0.023},{"w":6027.7,"f":0.057},{"w":6031.0,"f":-0.178},{"w":6034.3,"f":0.023},{"w":6037.5,"f":0.034},{"w":6041.4,"f":-0.011},{"w":6045.4,"f":0.052},{"w":6050.6,"f":-0.218},{"w":6054.5,"f":0.023},{"w":6059.1,"f":0.034},{"w":6063.6,"f":-0.057},{"w":6068.2,"f":0.011},{"w":6072.8,"f":0.161},{"w":6076.7,"f":0.011},{"w":6080.6,"f":0.333},{"w":6084.5,"f":-0.011},{"w":6088.5,"f":0.172},{"w":6093.0,"f":0.138},{"w":6096.3,"f":-0.046},{"w":6100.9,"f":-0.155},{"w":6104.1,"f":0.023},{"w":6108.0,"f":-0.011},{"w":6112.6,"f":0.092},{"w":6115.9,"f":-0.057},{"w":6121.1,"f":0.08},{"w":6125.0,"f":-0.08},{"w":6129.0,"f":0.023},{"w":6132.9,"f":-0.206},{"w":6136.8,"f":0.069},{"w":6140.7,"f":-0.046},{"w":6144.6,"f":0.08},{"w":6148.5,"f":0.103},{"w":6153.1,"f":0.0},{"w":6157.0,"f":0.224},{"w":6161.6,"f":-0.155},{"w":6165.5,"f":0.138},{"w":6169.4,"f":0.201},{"w":6173.3,"f":-0.092},{"w":6177.9,"f":0.069},{"w":6181.2,"f":-0.046},{"w":6185.7,"f":0.132},{"w":6189.0,"f":0.023},{"w":6194.2,"f":-0.034},{"w":6198.1,"f":-0.069},{"w":6202.7,"f":-0.149},{"w":6207.3,"f":-0.39},{"w":6211.8,"f":-0.161},{"w":6216.4,"f":0.046},{"w":6220.3,"f":0.115},{"w":6224.3,"f":-0.057},{"w":6228.2,"f":0.092},{"w":6233.4,"f":0.516},{"w":6237.3,"f":0.206},{"w":6241.2,"f":0.115},{"w":6245.2,"f":0.161},{"w":6249.7,"f":0.046},{"w":6254.3,"f":-0.069},{"w":6258.2,"f":0.161},{"w":6264.1,"f":0.356},{"w":6268.0,"f":0.298},{"w":6271.9,"f":0.275},{"w":6275.2,"f":-0.103},{"w":6279.1,"f":-0.057},{"w":6283.0,"f":0.057},{"w":6287.6,"f":-0.378},{"w":6292.2,"f":0.115},{"w":6296.1,"f":-0.057},{"w":6300.0,"f":0.115},{"w":6305.2,"f":0.614},{"w":6309.1,"f":0.069},{"w":6313.1,"f":-0.144},{"w":6317.0,"f":0.046},{"w":6321.5,"f":0.241},{"w":6326.1,"f":0.0},{"w":6331.3,"f":0.069},{"w":6335.2,"f":-0.092},{"w":6339.2,"f":0.046},{"w":6343.1,"f":-0.023},{"w":6347.0,"f":0.115},{"w":6350.9,"f":-0.023},{"w":6354.8,"f":0.069},{"w":6358.8,"f":-0.046},{"w":6364.0,"f":0.293},{"w":6369.2,"f":0.046},{"w":6373.8,"f":-0.138},{"w":6378.3,"f":0.046},{"w":6382.3,"f":-0.195},{"w":6386.8,"f":0.149},{"w":6392.0,"f":0.321},{"w":6396.6,"f":0.184},{"w":6400.5,"f":0.195},{"w":6404.5,"f":-0.034},{"w":6408.4,"f":0.069},{"w":6412.3,"f":-0.092},{"w":6416.2,"f":-0.046},{"w":6420.1,"f":0.092},{"w":6424.7,"f":0.189},{"w":6429.3,"f":-0.023},{"w":6433.8,"f":0.057},{"w":6437.8,"f":0.046},{"w":6442.3,"f":0.115},
{"w":6445.6,"f":-0.023},{"w":6448.8,"f":0.034},{"w":6452.1,"f":-0.057},{"w":6456.7,"f":0.034},{"w":6460.6,"f":-0.011},{"w":6465.2,"f":0.023},{"w":6468.4,"f":0.252},{"w":6472.3,"f":-0.046},{"w":6476.3,"f":0.034},{"w":6480.2,"f":0.086},{"w":6483.4,"f":-0.04},{"w":6488.0,"f":0.046},{"w":6491.3,"f":0.247},{"w":6495.8,"f":0.092},{"w":6499.8,"f":-0.08},{"w":6504.3,"f":0.315},{"w":6508.9,"f":-0.063},{"w":6512.8,"f":0.161},{"w":6516.1,"f":0.315},{"w":6519.3,"f":0.069},{"w":6522.6,"f":0.31},{"w":6525.9,"f":0.115},{"w":6529.1,"f":0.183},{"w":6533.7,"f":-0.046},{"w":6538.3,"f":-0.344},{"w":6543.5,"f":0.252},{"w":6548.1,"f":0.069},{"w":6552.0,"f":-0.057},{"w":6556.6,"f":-0.046},{"w":6559.8,"f":0.149},{"w":6564.4,"f":0.155},{"w":6568.3,"f":0.023},{"w":6572.9,"f":0.241},{"w":6577.5,"f":0.052},{"w":6581.4,"f":0.057},{"w":6586.0,"f":0.184},{"w":6589.9,"f":0.069},{"w":6593.8,"f":0.172},{"w":6597.7,"f":0.138},{"w":6602.3,"f":0.344},{"w":6605.5,"f":0.069},{"w":6610.8,"f":0.161},{"w":6613.4,"f":0.069},{"w":6617.3,"f":0.184},{"w":6620.5,"f":-0.097},{"w":6625.1,"f":0.069},{"w":6629.7,"f":0.138},{"w":6631.6,"f":-0.115},{"w":6636.2,"f":0.069},{"w":6641.4,"f":0.195},{"w":6644.7,"f":0.034},{"w":6648.6,"f":0.0},{"w":6652.5,"f":0.034},{"w":6655.8,"f":0.206},{"w":6659.7,"f":0.011},{"w":6664.3,"f":0.098},{"w":6668.2,"f":0.011},{"w":6672.1,"f":0.023},{"w":6676.0,"f":-0.006},{"w":6680.6,"f":-0.04},{"w":6683.9,"f":-0.034},{"w":6687.8,"f":-0.166},{"w":6691.7,"f":-0.057},{"w":6695.6,"f":0.126},{"w":6699.6,"f":-0.057},{"w":6703.5,"f":-0.034},{"w":6708.7,"f":0.023},{"w":6712.6,"f":-0.046},{"w":6716.5,"f":0.115},{"w":6720.4,"f":-0.023},{"w":6724.4,"f":0.069},{"w":6728.3,"f":-0.086},{"w":6732.2,"f":0.138},{"w":6737.4,"f":0.218},{"w":6741.3,"f":-0.034},{"w":6745.3,"f":-0.103},{"w":6749.2,"f":0.069},{"w":6753.7,"f":0.034},{"w":6758.3,"f":0.172},{"w":6762.2,"f":0.115},{"w":6766.8,"f":-0.057},{"w":6770.7,"f":0.046},{"w":6775.3,"f":0.149},{"w":6779.9,"f":0.247},{"w":6783.8,"f":0.069},{"w":6788.3,"f":0.04},{"w":6792.9,"f":0.069},{"w":6796.8,"f":0.08},{"w":6801.4,"f":0.103},{"w":6805.3,"f":0.149},{"w":6809.2,"f":0.138},{"w":6814.5,"f":0.092},{"w":6819.0,"f":0.006},{"w":6823.6,"f":0.252},{"w":6827.5,"f":-0.046},{"w":6831.4,"f":-0.172},{"w":6836.0,"f":0.023},{"w":6840.6,"f":-0.258},{"w":6843.8,"f":-0.057},{"w":6847.1,"f":-0.161},{"w":6852.3,"f":0.023},{"w":6856.2,"f":-0.115},{"w":6860.2,"f":-0.229},{"w":6864.1,"f":0.046},{"w":6868.0,"f":-0.236},{"w":6871.3,"f":0.189},{"w":6876.5,"f":-0.126},{"w":6881.0,"f":0.011},{"w":6885.0,"f":0.115},{"w":6889.5,"f":0.166},{"w":6893.5,"f":-0.046},{"w":6897.4,"f":0.155},{"w":6902.6,"f":-0.121},{"w":6907.2,"f":0.069},{"w":6911.1,"f":0.057},{"w":6915.7,"f":-0.046},{"w":6919.6,"f":0.236},{"w":6924.1,"f":-0.103},{"w":6927.4,"f":0.023},{"w":6932.0,"f":-0.132},{"w":6935.9,"f":-0.229},{"w":6940.5,"f":-0.115},{"w":6945.0,"f":-0.034},{"w":6949.6,"f":0.092},{"w":6953.5,"f":-0.172},{"w":6958.1,"f":-0.057},{"w":6962.7,"f":-0.046},{"w":6966.6,"f":0.052},{"w":6971.2,"f":0.023},{"w":6975.7,"f":0.04},{"w":6979.0,"f":0.161},{"w":6984.2,"f":-0.046},{"w":6988.8,"f":0.046},{"w":6992.7,"f":-0.046},{"w":6997.3,"f":0.046},{"w":7001.8,"f":-0.046},{"w":7005.8,"f":0.046},{"w":7010.3,"f":0.27},
{"w":7013.6,"f":-0.057},{"w":7016.8,"f":-0.069},{"w":7020.7,"f":-0.132},{"w":7024.7,"f":0.046},{"w":7029.9,"f":0.281},{"w":7034.5,"f":-0.023},{"w":7039.7,"f":-0.08},{"w":7044.3,"f":0.144},{"w":7048.2,"f":0.069},{"w":7051.4,"f":-0.011},{"w":7054.7,"f":0.115},{"w":7058.0,"f":0.034},{"w":7061.2,"f":0.069},{"w":7065.1,"f":0.115},{"w":7069.1,"f":0.046},{"w":7072.3,"f":0.023},{"w":7075.6,"f":-0.023},{"w":7079.5,"f":0.046},{"w":7083.4,"f":0.149},{"w":7088.6,"f":0.172},{"w":7093.2,"f":0.046},{"w":7097.1,"f":0.149},{"w":7101.7,"f":0.034},{"w":7106.9,"f":-0.12},{"w":7111.5,"f":0.0},{"w":7116.1,"f":0.092},{"w":7120.0,"f":0.046},{"w":7124.6,"f":0.218},{"w":7127.8,"f":0.092},{"w":7131.7,"f":0.115},{"w":7136.3,"f":0.149},{"w":7140.9,"f":0.069},{"w":7144.8,"f":0.052},{"w":7148.7,"f":0.103},{"w":7152.6,"f":0.126},{"w":7157.2,"f":0.023},{"w":7160.5,"f":0.034},{"w":7164.4,"f":0.126},{"w":7168.3,"f":0.287},{"w":7171.6,"f":0.034},{"w":7175.5,"f":0.103},{"w":7178.8,"f":-0.023},{"w":7182.0,"f":0.092},{"w":7186.6,"f":0.161},{"w":7190.5,"f":0.069},{"w":7194.4,"f":0.115},{"w":7199.6,"f":0.023},{"w":7204.2,"f":0.0},{"w":7209.4,"f":-0.097},{"w":7214.0,"f":-0.011},{"w":7219.2,"f":0.069},{"w":7223.2,"f":0.092},{"w":7227.1,"f":0.103},{"w":7232.3,"f":-0.023},{"w":7236.9,"f":0.149},{"w":7240.8,"f":0.344},{"w":7245.3,"f":-0.195},{"w":7249.3,"f":0.034},{"w":7253.2,"f":-0.034},{"w":7257.1,"f":0.149},{"w":7261.0,"f":-0.184},{"w":7264.9,"f":0.069},{"w":7268.8,"f":0.184},{"w":7272.8,"f":0.252},{"w":7276.7,"f":-0.161},{"w":7280.6,"f":0.195},{"w":7284.5,"f":0.206},{"w":7288.4,"f":-0.069},{"w":7292.4,"f":0.252},{"w":7295.6,"f":0.046},{"w":7299.5,"f":0.344},{"w":7302.8,"f":0.241},{"w":7306.7,"f":-0.046},{"w":7310.6,"f":0.229},{"w":7314.6,"f":0.115},{"w":7319.1,"f":0.069},{"w":7323.7,"f":-0.08},{"w":7327.6,"f":0.069},{"w":7331.5,"f":-0.092},{"w":7335.4,"f":0.184},{"w":7339.4,"f":-0.057},{"w":7343.3,"f":0.184},{"w":7347.2,"f":0.046},{"w":7351.1,"f":0.103},{"w":7355.0,"f":-0.057},{"w":7359.0,"f":-0.195},{"w":7362.9,"f":0.115},{"w":7366.8,"f":0.206},{"w":7370.7,"f":0.069},{"w":7374.6,"f":-0.103},{"w":7377.9,"f":0.023},{"w":7382.5,"f":0.098},{"w":7386.4,"f":0.161},{"w":7390.3,"f":0.092},{"w":7395.5,"f":-0.08},{"w":7400.1,"f":-0.178},{"w":7404.0,"f":0.069},{"w":7408.6,"f":0.184},{"w":7413.1,"f":0.034},{"w":7417.7,"f":-0.011},{"w":7421.6,"f":0.069},{"w":7426.9,"f":0.459},{"w":7431.4,"f":0.138},{"w":7435.3,"f":-0.138},{"w":7439.9,"f":0.011},{"w":7443.8,"f":-0.011},{"w":7447.7,"f":0.023},{"w":7451.7,"f":0.034},{"w":7455.6,"f":0.034},{"w":7460.8,"f":0.172},{"w":7464.7,"f":-0.034},{"w":7469.3,"f":-0.046},{"w":7473.9,"f":0.149},{"w":7477.8,"f":-0.103},{"w":7481.7,"f":-0.229},{"w":7485.6,"f":0.023},{"w":7489.5,"f":0.023},{"w":7493.5,"f":0.034},{"w":7497.4,"f":0.057},{"w":7501.3,"f":0.057},{"w":7505.2,"f":0.161},{"w":7509.1,"f":0.229},{"w":7513.1,"f":0.275},{"w":7517.0,"f":0.344},{"w":7520.9,"f":-0.011},{"w":7524.8,"f":0.252},{"w":7528.7,"f":0.034},{"w":7532.6,"f":-0.08},{"w":7536.6,"f":-0.034},{"w":7540.5,"f":0.138},{"w":7544.4,"f":0.034},{"w":7548.3,"f":0.138},{"w":7552.2,"f":0.275},{"w":7557.4,"f":-0.011},{"w":7562.0,"f":0.023},{"w":7565.9,"f":-0.115},{"w":7569.2,"f":-0.023},{"w":7573.1,"f":-0.046},{"w":7577.7,"f":-0.126},
{"w":7581.6,"f":0.046},{"w":7586.1,"f":0.206},{"w":7590.1,"f":-0.034},{"w":7594.6,"f":-0.069},{"w":7597.9,"f":0.069},{"w":7601.2,"f":0.092},{"w":7605.7,"f":0.351},{"w":7609.6,"f":0.115},{"w":7614.2,"f":-0.046},{"w":7617.5,"f":-0.092},{"w":7622.0,"f":0.378},{"w":7626.0,"f":0.0},{"w":7630.5,"f":-0.252},{"w":7634.5,"f":0.046},{"w":7639.0,"f":0.252},{"w":7643.6,"f":0.023},{"w":7647.5,"f":0.115},{"w":7651.4,"f":0.023},{"w":7655.3,"f":0.069},{"w":7659.3,"f":-0.023},{"w":7663.2,"f":-0.057},{"w":7667.1,"f":-0.183},{"w":7671.0,"f":-0.069},{"w":7674.3,"f":-0.126},{"w":7677.5,"f":-0.092},{"w":7681.5,"f":0.109},{"w":7685.4,"f":-0.057},{"w":7689.3,"f":-0.103},{"w":7693.2,"f":-0.046},{"w":7697.1,"f":0.149},{"w":7701.1,"f":0.138},{"w":7704.3,"f":0.006},{"w":7708.9,"f":0.59},{"w":7712.1,"f":0.161},{"w":7715.4,"f":-0.126},{"w":7719.3,"f":0.172},{"w":7723.3,"f":-0.069},{"w":7727.2,"f":-0.195},{"w":7732.4,"f":0.069},{"w":7736.3,"f":0.138},{"w":7740.2,"f":0.149},{"w":7743.5,"f":0.069},{"w":7746.8,"f":0.459},{"w":7750.7,"f":-0.097},{"w":7754.6,"f":0.195},{"w":7758.5,"f":-0.069},{"w":7762.4,"f":-0.241},{"w":7766.3,"f":0.172},{"w":7770.3,"f":0.218},{"w":7774.2,"f":-0.069},{"w":7778.1,"f":0.183},{"w":7782.0,"f":-0.206},{"w":7785.9,"f":0.046},{"w":7789.2,"f":0.189},{"w":7793.8,"f":0.023},{"w":7797.7,"f":-0.08},{"w":7800.9,"f":0.069},{"w":7804.9,"f":0.545},{"w":7808.1,"f":0.206},{"w":7812.0,"f":-0.258},{"w":7816.0,"f":0.424},{"w":7819.9,"f":-0.115},{"w":7823.1,"f":0.252},{"w":7827.1,"f":-0.092},{"w":7831.0,"f":-0.138},{"w":7834.2,"f":0.138},{"w":7838.2,"f":0.493},{"w":7842.7,"f":0.057},{"w":7846.0,"f":0.069},{"w":7849.9,"f":0.344},{"w":7853.8,"f":-0.034},{"w":7858.4,"f":0.447},{"w":7862.3,"f":-0.034},{"w":7865.6,"f":0.149},{"w":7869.5,"f":0.115},{"w":7873.4,"f":-0.149},{"w":7877.3,"f":-0.011},{"w":7881.3,"f":-0.057},{"w":7886.5,"f":0.791},{"w":7890.4,"f":-0.069},{"w":7894.3,"f":-0.115},{"w":7898.2,"f":0.046},{"w":7902.1,"f":0.424},{"w":7906.1,"f":0.069},{"w":7910.0,"f":0.138},{"w":7913.9,"f":-0.092},{"w":7917.8,"f":-0.344},{"w":7921.7,"f":-0.378},{"w":7925.6,"f":-0.264},{"w":7929.6,"f":0.126},{"w":7933.5,"f":-0.057},{"w":7937.4,"f":-0.034},{"w":7941.3,"f":-0.138},{"w":7945.2,"f":0.023},{"w":7949.2,"f":0.063},{"w":7953.1,"f":-0.046},{"w":7957.0,"f":0.046},{"w":7960.9,"f":0.184},{"w":7964.8,"f":0.252},{"w":7968.7,"f":0.138},{"w":7972.7,"f":0.264},{"w":7976.6,"f":0.115},{"w":7980.5,"f":-0.08},{"w":7984.4,"f":0.0},{"w":7988.3,"f":0.206},{"w":7992.2,"f":0.447},{"w":7996.2,"f":-0.069},{"w":8000.1,"f":-0.229},{"w":8004.0,"f":-0.138},{"w":8009.2,"f":-0.407},{"w":8013.1,"f":-0.229},{"w":8017.1,"f":-0.069},{"w":8021.0,"f":-0.046},{"w":8024.9,"f":0.401},{"w":8028.8,"f":-0.08},{"w":8032.7,"f":0.138},{"w":8036.6,"f":0.138},{"w":8040.6,"f":-0.115},{"w":8044.5,"f":0.023},{"w":8048.4,"f":-0.252},{"w":8052.3,"f":-0.092},{"w":8056.2,"f":-0.08},{"w":8060.1,"f":-0.126},{"w":8064.1,"f":-0.287},{"w":8068.0,"f":-0.126},{"w":8071.9,"f":-0.241},{"w":8075.8,"f":-0.115},{"w":8079.7,"f":0.023},{"w":8083.6,"f":0.206},{"w":8087.6,"f":-0.138},{"w":8091.5,"f":-0.034},{"w":8095.4,"f":0.08},{"w":8099.3,"f":-0.195},{"w":8103.2,"f":0.184},{"w":8107.1,"f":-0.011},{"w":8111.1,"f":-0.293},{"w":8115.0,"f":0.0},{"w":8118.9,"f":-0.011},{"w":8122.8,"f":-0.092},{"w":8126.7,"f":-0.235},{"w":8130.6,"f":-0.115},{"w":8134.6,"f":-0.241},{"w":8138.5,"f":0.149},{"w":8142.4,"f":0.126},{"w":8146.3,"f":-0.034},
{"w":8149.6,"f":-0.046},{"w":8152.8,"f":0.034},{"w":8156.1,"f":-0.057},{"w":8160.7,"f":0.057},{"w":8164.6,"f":-0.046},{"w":8169.2,"f":-0.321},{"w":8172.4,"f":0.023},{"w":8176.3,"f":0.057},{"w":8180.3,"f":-0.126},{"w":8184.2,"f":-0.092},{"w":8188.1,"f":0.034},{"w":8192.0,"f":-0.069},{"w":8195.9,"f":-0.229},{"w":8199.8,"f":-0.046},{"w":8203.8,"f":-0.161},{"w":8207.7,"f":-0.195},{"w":8211.6,"f":-0.161},{"w":8215.5,"f":-0.206},{"w":8219.4,"f":-0.115},{"w":8223.3,"f":-0.057},{"w":8227.3,"f":-0.161},{"w":8231.2,"f":-0.333},{"w":8235.1,"f":-0.057},{"w":8239.0,"f":-0.103},{"w":8242.9,"f":-0.195},{"w":8246.8,"f":-0.034},{"w":8250.8,"f":0.063},{"w":8254.7,"f":-0.069},{"w":8258.6,"f":-0.183},{"w":8262.5,"f":-0.126},{"w":8266.4,"f":-0.034},{"w":8270.4,"f":-0.149},{"w":8274.3,"f":-0.092},{"w":8278.8,"f":0.333},{"w":8282.1,"f":-0.034},{"w":8285.4,"f":-0.493},{"w":8289.9,"f":0.011},{"w":8293.9,"f":0.252},{"w":8297.8,"f":-0.115},{"w":8301.7,"f":0.138},{"w":8305.6,"f":0.545},{"w":8309.5,"f":0.046},{"w":8313.4,"f":0.103},{"w":8317.4,"f":0.115},{"w":8321.3,"f":-0.115},{"w":8325.2,"f":-0.161},{"w":8329.1,"f":0.046},{"w":8333.0,"f":0.069},{"w":8336.9,"f":-0.304},{"w":8340.9,"f":0.47},{"w":8344.8,"f":-0.092},{"w":8348.7,"f":0.837},{"w":8352.6,"f":-0.161},{"w":8356.5,"f":0.252},{"w":8360.5,"f":0.596},{"w":8364.4,"f":-0.023},{"w":8368.3,"f":-0.264},{"w":8372.2,"f":-0.069},{"w":8376.1,"f":0.195},{"w":8380.0,"f":0.0},{"w":8384.0,"f":0.046},{"w":8387.9,"f":-0.126},{"w":8391.8,"f":0.046},{"w":8395.7,"f":0.579},{"w":8399.6,"f":-0.069},{"w":8403.5,"f":-0.138},{"w":8407.5,"f":0.344},{"w":8411.4,"f":-0.023},{"w":8415.3,"f":-0.069},{"w":8419.2,"f":0.046},{"w":8423.1,"f":0.115},{"w":8427.0,"f":-0.08},{"w":8431.0,"f":0.034},{"w":8434.9,"f":-0.092},{"w":8438.8,"f":-0.057},{"w":8442.7,"f":0.229},{"w":8446.6,"f":0.424},{"w":8450.6,"f":0.149},{"w":8454.5,"f":-0.218},{"w":8458.4,"f":-0.057},{"w":8462.3,"f":0.562},{"w":8466.2,"f":-0.252},{"w":8470.1,"f":-0.161},{"w":8474.1,"f":-0.069},{"w":8478.0,"f":-0.069},{"w":8481.9,"f":0.023},{"w":8485.8,"f":0.08},{"w":8489.7,"f":-0.046},{"w":8493.6,"f":-0.183},{"w":8497.6,"f":0.115},{"w":8501.5,"f":0.528},{"w":8505.4,"f":-0.092},{"w":8509.3,"f":-0.069},{"w":8513.2,"f":-0.161},{"w":8517.1,"f":-0.298},{"w":8521.1,"f":-0.252},{"w":8525.0,"f":-0.172},{"w":8528.9,"f":-0.092},{"w":8532.8,"f":-0.057},{"w":8536.7,"f":-0.241},{"w":8540.7,"f":-0.057},{"w":8544.6,"f":-0.092},{"w":8548.5,"f":0.057},{"w":8552.4,"f":0.103},{"w":8556.3,"f":-0.161},{"w":8560.2,"f":0.023},{"w":8564.2,"f":0.069},{"w":8568.1,"f":-0.069},{"w":8572.0,"f":0.046},{"w":8575.9,"f":-0.183},{"w":8579.8,"f":-0.057},{"w":8583.7,"f":-0.138},{"w":8587.7,"f":-0.092},{"w":8591.6,"f":0.08},{"w":8595.5,"f":-0.057},{"w":8599.4,"f":-0.115},{"w":8603.3,"f":-0.08},{"w":8607.2,"f":0.069},{"w":8611.2,"f":0.103},{"w":8615.1,"f":0.229},{"w":8619.0,"f":0.115},{"w":8622.9,"f":0.287},{"w":8626.8,"f":0.138},{"w":8630.8,"f":-0.229},{"w":8634.7,"f":0.287},{"w":8638.6,"f":0.046},{"w":8642.5,"f":0.252},{"w":8646.4,"f":0.195},{"w":8650.3,"f":0.229},{"w":8654.3,"f":0.115},{"w":8658.2,"f":0.367},{"w":8662.1,"f":0.034},{"w":8666.7,"f":-0.195},{"w":8670.6,"f":0.436},{"w":8674.5,"f":-0.115},{"w":8678.4,"f":0.39},{"w":8682.3,"f":-0.046},{"w":8686.3,"f":-0.092},{"w":8690.2,"f":-0.08},{"w":8694.1,"f":-0.149},{"w":8698.0,"f":-0.092},{"w":8701.9,"f":-0.206},{"w":8705.8,"f":0.023},{"w":8709.8,"f":-0.229},{"w":8713.7,"f":-0.08},
{"w":8717.7,"f":-0.092},{"w":8720.9,"f":0.069},{"w":8724.8,"f":-0.218},{"w":8728.8,"f":-0.034},{"w":8732.7,"f":-0.011},{"w":8735.9,"f":-0.172},{"w":8739.2,"f":-0.011},{"w":8743.8,"f":0.069},{"w":8748.4,"f":-0.115},{"w":8752.3,"f":0.0},{"w":8755.5,"f":0.069},{"w":8758.8,"f":0.694},{"w":8762.1,"f":-0.011},{"w":8765.3,"f":-0.069},{"w":8768.6,"f":0.138},{"w":8773.2,"f":0.401},{"w":8777.1,"f":0.046},{"w":8779.7,"f":0.034},{"w":8783.6,"f":0.046},{"w":8787.5,"f":0.545},{"w":8791.4,"f":0.023},{"w":8795.4,"f":0.057},{"w":8799.3,"f":-0.229},{"w":8803.2,"f":-0.023},{"w":8807.1,"f":-0.092},{"w":8811.0,"f":-0.069},{"w":8814.9,"f":-0.069},{"w":8818.9,"f":-0.424},{"w":8822.8,"f":-0.092},{"w":8825.4,"f":0.229},{"w":8829.3,"f":-0.126},{"w":8833.2,"f":-0.229},{"w":8837.1,"f":-0.011},{"w":8841.1,"f":0.172},{"w":8845.0,"f":-0.103},{"w":8848.9,"f":0.034},{"w":8852.8,"f":0.034},{"w":8856.7,"f":-0.178},{"w":8860.6,"f":0.046},{"w":8864.6,"f":0.688},{"w":8868.5,"f":0.092},{"w":8872.4,"f":0.126},{"w":8876.3,"f":0.023},{"w":8880.2,"f":-0.522},{"w":8884.2,"f":0.023},{"w":8888.1,"f":0.069},{"w":8892.0,"f":0.138},{"w":8895.9,"f":0.344},{"w":8899.8,"f":-0.247},{"w":8903.7,"f":0.195},{"w":8907.7,"f":-0.252},{"w":8911.6,"f":0.023},{"w":8915.5,"f":-0.728},{"w":8919.4,"f":-0.241},{"w":8923.3,"f":-0.195},{"w":8927.2,"f":0.115},{"w":8931.2,"f":0.103},{"w":8935.1,"f":0.08},{"w":8939.0,"f":-0.092},{"w":8942.9,"f":0.023},{"w":8946.8,"f":-0.206},{"w":8950.8,"f":-0.482},{"w":8954.7,"f":0.046},{"w":8958.6,"f":-0.206},{"w":8962.5,"f":-0.092},{"w":8966.4,"f":-0.298},{"w":8970.3,"f":-0.115},{"w":8974.3,"f":0.092},{"w":8978.2,"f":-0.298},{"w":8982.1,"f":-0.333},{"w":8986.0,"f":-0.069},{"w":8989.9,"f":-0.275},{"w":8993.8,"f":-0.206},{"w":8997.8,"f":0.264},{"w":9001.7,"f":-0.195},{"w":9005.6,"f":-0.138},{"w":9009.5,"f":-0.206},{"w":9013.4,"f":-0.31},{"w":9017.3,"f":-0.161},{"w":9021.3,"f":-0.046},{"w":9025.2,"f":0.0},{"w":9029.1,"f":0.229},{"w":9033.0,"f":-0.069},{"w":9036.9,"f":0.0},{"w":9040.9,"f":-0.057},{"w":9044.8,"f":0.161},{"w":9048.7,"f":-0.023},{"w":9052.6,"f":0.0},{"w":9056.5,"f":0.023},{"w":9060.4,"f":0.184},{"w":9064.4,"f":0.103},{"w":9068.3,"f":0.08},{"w":9072.2,"f":0.333},{"w":9076.1,"f":0.069},{"w":9080.0,"f":0.126},{"w":9083.9,"f":-0.183},{"w":9087.9,"f":-0.069},{"w":9091.8,"f":-0.092},{"w":9095.7,"f":-0.206},{"w":9098.3,"f":-0.585},{"w":9102.2,"f":-0.149},{"w":9106.1,"f":-0.103},{"w":9110.1,"f":0.138},{"w":9114.0,"f":-0.206},{"w":9117.9,"f":-0.115},{"w":9121.8,"f":-0.218},{"w":9125.7,"f":-0.149},{"w":9129.6,"f":-0.206},{"w":9132.3,"f":-0.321},{"w":9136.2,"f":-0.092},{"w":9140.1,"f":-0.31},{"w":9144.0,"f":-0.115},{"w":9147.9,"f":-0.459},{"w":9151.9,"f":-0.011},{"w":9155.8,"f":0.298},{"w":9159.7,"f":0.057},{"w":9163.6,"f":0.046},{"w":9167.5,"f":-0.264},{"w":9171.4,"f":0.057},{"w":9175.4,"f":-0.241},{"w":9179.3,"f":-0.011},{"w":9183.2,"f":0.161},{"w":9187.1,"f":0.046},{"w":9191.0,"f":0.161},{"w":9194.9,"f":-0.046},{"w":9198.9,"f":0.184},{"w":9202.8,"f":-0.046},{"w":9206.7,"f":0.161},{"w":9210.6,"f":0.069},{"w":9214.5,"f":0.0},{"w":9218.4,"f":0.069},{"w":9222.4,"f":-0.011},{"w":9226.3,"f":0.184},{"w":9230.2,"f":-0.115},{"w":9234.1,"f":0.023},{"w":9238.0,"f":-0.172},{"w":9241.9,"f":0.023},{"w":9245.9,"f":0.229},{"w":9249.8,"f":0.034},{"w":9253.7,"f":-0.252},{"w":9257.6,"f":0.161},{"w":9261.5,"f":-0.011},{"w":9265.5,"f":0.126},{"w":9269.4,"f":-0.356},{"w":9273.3,"f":-0.046},{"w":9277.2,"f":-0.069},{"w":9281.1,"f":-0.31},{"w":9285.0,"f":-0.023},{"w":9289.0,"f":0.195},{"w":9292.9,"f":-0.138},{"w":9296.8,"f":-0.115},{"w":9300.7,"f":-0.126}
]
},
"encoding": {
"x": {"field": "w", "type": "quantitative", "scale": {"domain": [4748, 9302], "nice": false, "zero": false},
"axis": {"title": "Wavelength", "values": [5000, 6000, 7000, 8000, 9000], "format": "d", "labelFontSize": 28, "titleFontSize": 32, "labelPadding": 12, "titleX": 1162.5, "titleY": 85, "titleBaseline": "alphabetic", "titleAlign": "center", "labelFlush": false}},
"y": {"field": "f", "type": "quantitative", "scale": {"domain": [-0.834, 0.921], "nice": false, "zero": false, "clamp": true},
"axis": {"title": "10⁻¹⁸ erg s⁻¹ cm⁻² Å⁻¹", "values": [-0.8, -0.6, -0.4, -0.2, 0, 0.2, 0.4, 0.6, 0.8], "format": ".1f", "labelFontSize": 35, "titleFontSize": 48, "labelPadding": 17, "titleX": -149, "titleY": 346.5, "titleAngle": -90, "titleBaseline": "alphabetic", "titleAlign": "center"}}
},
"layer": [
{"data": {"name": "zero"}, "mark": {"type": "line", "color": "#0000ff", "strokeWidth": 5.5, "clip": true}},
{"data": {"name": "err"}, "mark": {"type": "line", "color": "#008000", "strokeWidth": 1.5, "clip": true}},
{"data": {"name": "flux"}, "mark": {"type": "line", "color": "#000000", "strokeWidth": 4, "clip": true, "strokeJoin": "round"}}
]
}
